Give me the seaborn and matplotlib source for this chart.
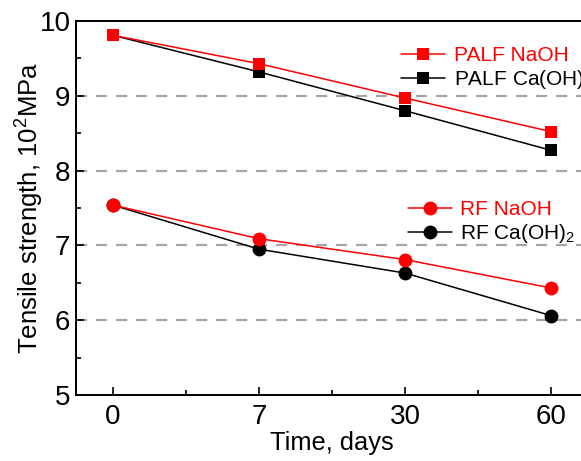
import numpy as np
import pandas as pd
import matplotlib
matplotlib.use("Agg")
import matplotlib.pyplot as plt
import seaborn as sns
from matplotlib.ticker import MultipleLocator, FixedLocator

# Data
days = ["0", "7", "30", "60"]
palf_naoh = [9.81, 9.43, 8.97, 8.52]
palf_caoh = [9.81, 9.32, 8.80, 8.27]
rf_naoh = [7.54, 7.09, 6.81, 6.43]
rf_caoh = [7.54, 6.95, 6.63, 6.06]

sns.set_theme(style="ticks")
plt.rcParams["font.family"] = ["Liberation Sans", "DejaVu Sans"]
plt.rcParams["mathtext.fontset"] = "custom"
plt.rcParams["mathtext.rm"] = "Liberation Sans"
plt.rcParams["mathtext.it"] = "Liberation Sans:italic"
plt.rcParams["text.color"] = "black"
plt.rcParams["axes.labelcolor"] = "black"
plt.rcParams["xtick.color"] = "black"
plt.rcParams["ytick.color"] = "black"

fig = plt.figure(figsize=(5.81, 4.61), dpi=100)
ax = fig.add_axes([76 / 581, 1 - 395 / 461, (588 - 76) / 581, (395 - 21) / 461])

series = [
    ("PALF Ca(OH)$_2$", palf_caoh, "black", "s", 9),
    ("RF Ca(OH)$_2$", rf_caoh, "black", "o", 10),
    ("PALF NaOH", palf_naoh, "red", "s", 9),
    ("RF NaOH", rf_naoh, "red", "o", 10),
]

handles = {}
for name, vals, col, mk, ms in series:
    df = pd.DataFrame({"day": days, "val": vals})
    sns.pointplot(data=df, x="day", y="val", order=days, color=col,
                  markers=mk, linestyles="-", ax=ax, errorbar=None,
                  markersize=ms, linewidth=1.1)
    ln = ax.lines[-1]
    ln.set_markeredgewidth(0)
    handles[name] = ln

for yv in [6, 7, 8, 9]:
    ax.axhline(yv, color="#a6a6a6", lw=1.6, ls=(0, (5, 4)), zorder=0)

ax.set_xlim(-0.25, 3.25)
ax.set_ylim(5, 10)
ax.yaxis.set_major_locator(MultipleLocator(1))
ax.yaxis.set_minor_locator(MultipleLocator(0.5))
ax.xaxis.set_minor_locator(FixedLocator([0.5, 1.5, 2.5]))
ax.tick_params(which="both", direction="in", width=1.2, labelsize=20,
               top=False, right=False)
ax.tick_params(which="major", length=6, pad=4)
ax.tick_params(axis="x", which="major", pad=6.5)
ax.tick_params(which="minor", length=3.5)
ax.set_xlabel("Time, days", fontsize=18.3, labelpad=1)
ax.set_ylabel("Tensile strength, 10$^2$MPa", fontsize=18.5, labelpad=-5)
for sp in ax.spines.values():
    sp.set_linewidth(1.4)
    sp.set_color("black")

leg1 = ax.legend([handles["PALF NaOH"], handles["PALF Ca(OH)$_2$"]],
                 ["PALF NaOH", "PALF Ca(OH)$_2$"],
                 loc="upper left", bbox_to_anchor=(391 / 581, 1 - 36 / 461),
                 bbox_transform=fig.transFigure, frameon=False, fontsize=15,
                 borderpad=0, handlelength=2.1, handletextpad=0.4,
                 labelspacing=0.12)
leg1.get_texts()[0].set_color("red")
ax.add_artist(leg1)

leg2 = ax.legend([handles["RF NaOH"], handles["RF Ca(OH)$_2$"]],
                 ["RF NaOH", "RF Ca(OH)$_2$"],
                 loc="upper left", bbox_to_anchor=(398 / 581, 1 - 190 / 461),
                 bbox_transform=fig.transFigure, frameon=False, fontsize=15,
                 borderpad=0, handlelength=2.1, handletextpad=0.4,
                 labelspacing=0.12)
leg2.get_texts()[0].set_color("red")

fig.savefig("out.png", dpi=100)
